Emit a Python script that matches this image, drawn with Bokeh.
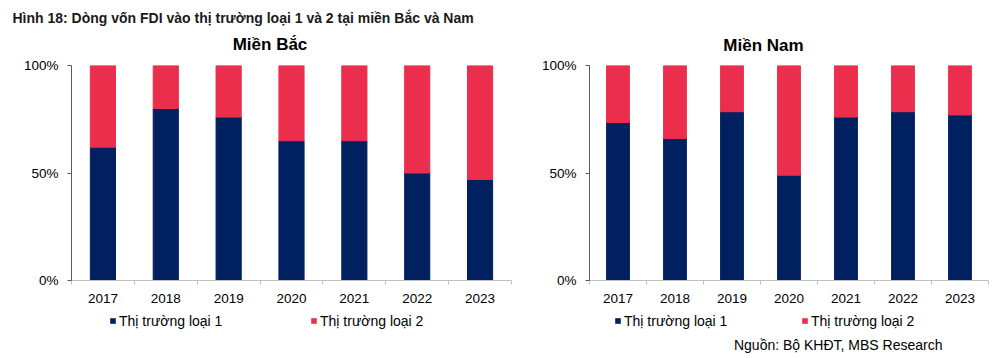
from bokeh.plotting import figure
from bokeh.models import (Range1d, FixedTicker, NumeralTickFormatter, Label, Legend,
                          LegendItem, ColumnDataSource)
from bokeh.layouts import row, column
from bokeh.embed import file_html
from bokeh.resources import INLINE

# ---------------- data ----------------
years = ["2017", "2018", "2019", "2020", "2021", "2022", "2023"]
bac_loai1 = [62, 80, 76, 65, 65, 50, 47]
bac_loai2 = [38, 20, 24, 35, 35, 50, 53]
nam_loai1 = [73.5, 66, 78.5, 49, 76, 78.5, 77]
nam_loai2 = [26.5, 34, 21.5, 51, 24, 21.5, 23]
series_names = ["Thị trường loại 1", "Thị trường loại 2"]
panel_titles = ["Miền Bắc", "Miền Nam"]
main_title = "Hình 18: Dòng vốn FDI vào thị trường loại 1 và 2 tại miền Bắc và Nam"
source_note = "Nguồn: Bộ KHĐT, MBS Research"

# ---------------- style / layout ----------------
COLORS = ["#002060", "#EA2E4C"]
FONT = "Liberation Sans"
W = 1000
HEAD_H, MID_H, FOOT_H = 56, 252, 50


def blank(width, height):
    f = figure(width=width, height=height, x_range=Range1d(0, 1), y_range=Range1d(0, 1),
               x_axis_type=None, y_axis_type=None, output_backend="svg",
               toolbar_location=None, min_border=0)
    f.outline_line_color = None
    f.xgrid.visible = False
    f.ygrid.visible = False
    f.background_fill_color = "white"
    f.border_fill_color = "white"
    return f


def make_panel(loai1, loai2, width, bl, br, bt, bb):
    n = len(years)
    src = ColumnDataSource(dict(
        x=[i + 0.5 for i in range(n)],
        l1=[v / 100 for v in loai1],
        l2=[v / 100 for v in loai2],
    ))
    p = figure(width=width, height=MID_H, x_range=Range1d(0, n), y_range=Range1d(0, 1),
               output_backend="svg", toolbar_location=None,
               min_border_left=bl, min_border_right=br, min_border_top=bt,
               min_border_bottom=bb)
    p.outline_line_color = None
    p.xgrid.visible = False
    p.ygrid.visible = False
    p.background_fill_color = "white"
    p.border_fill_color = "white"

    p.vbar_stack(["l1", "l2"], x="x", width=0.4, color=COLORS, source=src)

    # x axis: year labels at bar centres, tick marks between categories
    xa = p.xaxis[0]
    xa.ticker = FixedTicker(ticks=[i + 0.5 for i in range(n)], minor_ticks=list(range(n + 1)))
    xa.major_label_overrides = {i + 0.5: y for i, y in enumerate(years)}
    xa.major_tick_line_color = None
    xa.major_tick_out = 0
    xa.major_tick_in = 0
    xa.minor_tick_out = 4
    xa.minor_tick_in = 0
    xa.minor_tick_line_color = "#BFBFBF"
    xa.axis_line_color = "#BFBFBF"
    xa.major_label_text_font = FONT
    xa.major_label_text_font_size = "13.5px"
    xa.major_label_text_color = "black"
    xa.major_label_standoff = 9

    ya = p.yaxis[0]
    ya.ticker = FixedTicker(ticks=[0, 0.5, 1], minor_ticks=[])
    ya.formatter = NumeralTickFormatter(format="0%")
    ya.major_tick_out = 4
    ya.major_tick_in = 0
    ya.minor_tick_line_color = None
    ya.axis_line_color = "#595959"
    ya.major_tick_line_color = "#595959"
    ya.major_label_text_font = FONT
    ya.major_label_text_font_size = "13.5px"
    ya.major_label_text_color = "black"
    ya.major_label_standoff = 9
    return p


# ---- header: main title + panel titles (page y 0..56) ----
head = blank(W, HEAD_H)
head.add_layout(Label(x=12, y=HEAD_H - 17, x_units="screen", y_units="screen",
                      text=main_title, text_font=FONT, text_font_size="14px",
                      text_font_style="bold", text_align="left", text_baseline="middle",
                      text_color="#1a1a1a"))
for t, cx, cy in zip(panel_titles, [269.5, 763], [44, 45]):
    head.add_layout(Label(x=cx, y=HEAD_H - cy, x_units="screen", y_units="screen",
                          text=t, text_font=FONT, text_font_size="17px",
                          text_font_style="bold", text_align="center",
                          text_baseline="middle", text_color="black"))

# ---- charts (page y 56..308); frames: left x 71..511, right x 587..988 ----
p1 = make_panel(bac_loai1, bac_loai2, 538, 71, 27, 64 - HEAD_H, HEAD_H + MID_H - 280)
p2 = make_panel(nam_loai1, nam_loai2, 462, 49, 12, 65 - HEAD_H, HEAD_H + MID_H - 280)

# ---- footer: legends + source (page y 308..358) ----
foot = blank(W, FOOT_H)
# legend swatch renderers (zero-size bars, only their style is shown in the legends)
swatch_src = ColumnDataSource(dict(x=[0], top=[0]))
swatches = [foot.vbar(x="x", top="top", bottom=0, width=0, fill_color=c,
                      line_color=c, line_alpha=0, source=swatch_src) for c in COLORS]
foot_top = HEAD_H + MID_H
legend_spots = [(109, 310), (614, 801)]   # left x of each legend swatch, per chart
for xs in legend_spots:
    for k in range(2):
        foot.add_layout(Legend(
            items=[LegendItem(label=series_names[k], renderers=[swatches[k]])],
            location=(xs[k], FOOT_H - (320.5 - foot_top) - 10),
            glyph_width=7, glyph_height=7, label_standoff=3, padding=0, margin=0,
            spacing=0, border_line_color=None, background_fill_alpha=0,
            label_text_font=FONT, label_text_font_size="14px",
            label_text_color="black", label_height=20))
foot.add_layout(Label(x=942, y=FOOT_H - (344 - foot_top), x_units="screen", y_units="screen",
                      text=source_note, text_font=FONT, text_font_size="14px",
                      text_align="right", text_baseline="middle", text_color="black"))

layout = column(head, row(p1, p2), foot)
open("out.html", "w").write(file_html(layout, INLINE))
